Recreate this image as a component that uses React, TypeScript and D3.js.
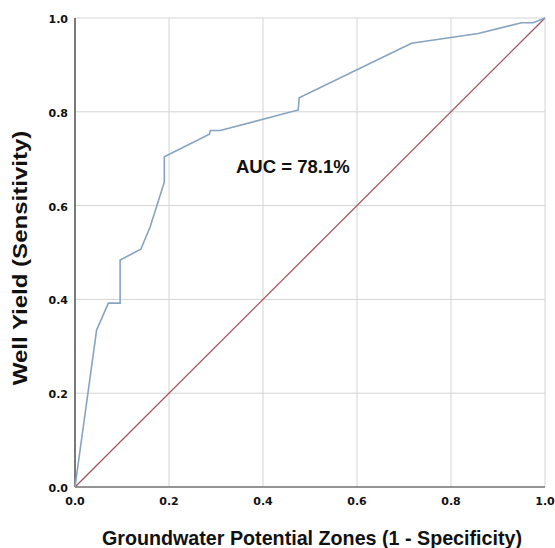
import React from "react";
import * as d3 from "d3";

// ROC curve points
const fpr = [0, 0.046, 0.071, 0.096, 0.096, 0.14, 0.16, 0.19, 0.19, 0.286, 0.288, 0.309, 0.475, 0.477, 0.716, 0.858, 0.95, 0.975, 1];
const tpr = [0, 0.335, 0.392, 0.392, 0.484, 0.507, 0.555, 0.65, 0.704, 0.752, 0.76, 0.76, 0.804, 0.83, 0.946, 0.967, 0.99, 0.99, 1];
const refLine = [0, 1];
const ticks = [0, 0.2, 0.4, 0.6, 0.8, 1.0];
const aucLabel = "AUC = 78.1%";
const xTitle = "Groundwater Potential Zones (1 - Specificity)";
const yTitle = "Well Yield (Sensitivity)";

const W = 555,
  H = 548;
const left = 75,
  right = 545,
  top = 18,
  bottom = 487;

const App = () => {
  const x = d3.scaleLinear().domain([0, 1]).range([left, right]);
  const y = d3.scaleLinear().domain([0, 1]).range([bottom, top]);

  const line = d3
    .line<number>()
    .x((d, i) => x(fpr[i]))
    .y((d, i) => y(tpr[i]));

  const diag = d3
    .line<number>()
    .x((d) => x(d))
    .y((d) => y(d));

  const tickFont = "'DejaVu Sans', Verdana, sans-serif";
  const titleFont = "'Liberation Sans', Arial, sans-serif";

  return (
    <svg
      width={W}
      height={H}
      style={{ position: "absolute", left: 0, top: 0, background: "#fff" }}
    >
      {/* grid */}
      {ticks.map((t) => (
        <g key={"g" + t}>
          <line x1={x(t)} x2={x(t)} y1={top} y2={bottom} stroke="#d4d4d4" strokeWidth={1} />
          <line x1={left} x2={right} y1={y(t)} y2={y(t)} stroke="#d4d4d4" strokeWidth={1} />
        </g>
      ))}

      {/* axes */}
      <line x1={left} x2={left} y1={top} y2={bottom} stroke="#555" strokeWidth={1.5} />
      <line x1={left} x2={right} y1={bottom} y2={bottom} stroke="#777" strokeWidth={1.5} />

      {/* reference diagonal */}
      <path d={diag(refLine) ?? ""} fill="none" stroke="#a45560" strokeWidth={1.3} />

      {/* ROC curve */}
      <path d={line(fpr) ?? ""} fill="none" stroke="#86a3c0" strokeWidth={1.6} />

      {/* tick labels */}
      {ticks.map((t) => (
        <text
          key={"yl" + t}
          x={left - 7}
          y={y(t) + 2}
          textAnchor="end"
          dominantBaseline="middle"
          fontFamily={tickFont}
          fontWeight="bold"
          fontSize={11}
          fill="#111"
        >
          {t.toFixed(1)}
        </text>
      ))}
      {ticks.map((t) => (
        <text
          key={"xl" + t}
          x={x(t)}
          y={bottom + 15}
          textAnchor="middle"
          dominantBaseline="middle"
          fontFamily={tickFont}
          fontWeight="bold"
          fontSize={11}
          fill="#111"
        >
          {t.toFixed(1)}
        </text>
      ))}

      {/* AUC annotation */}
      <text
        x={236}
        y={173}
        fontFamily={titleFont}
        fontWeight="bold"
        fontSize={18.5}
        fill="#111"
      >
        {aucLabel}
      </text>

      {/* axis titles */}
      <text
        x={312}
        y={545}
        textAnchor="middle"
        fontFamily={titleFont}
        fontWeight="bold"
        fontSize={19.7}
        fill="#111"
      >
        {xTitle}
      </text>
      <text
        transform={`translate(27, 258) scale(1, 1.22) rotate(-90)`}
        textAnchor="middle"
        fontFamily={titleFont}
        fontWeight="bold"
        fontSize={19.7}
        fill="#111"
      >
        {yTitle}
      </text>
    </svg>
  );
};

export default App;
